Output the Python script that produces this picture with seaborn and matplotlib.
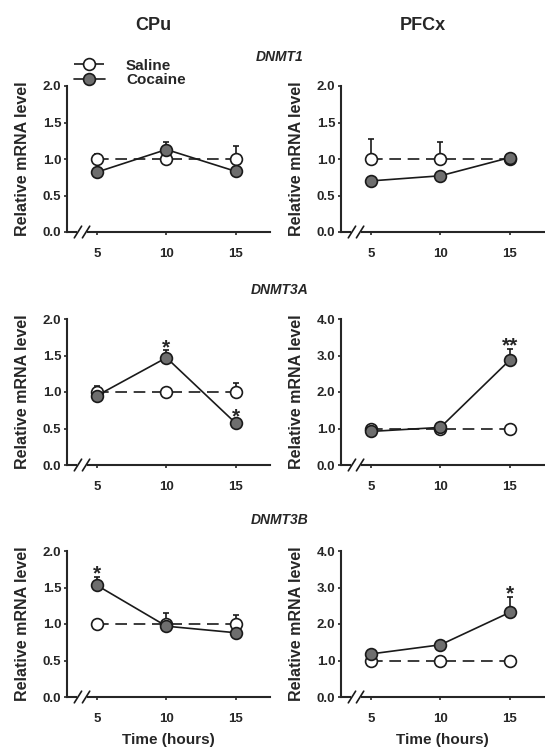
import matplotlib
matplotlib.use("Agg")
import matplotlib.pyplot as plt
import numpy as np
import pandas as pd
import seaborn as sns

# ---- data ----
TIME = [5, 10, 15]
REGIONS = ["CPu", "PFCx"]
GENES = ["DNMT1", "DNMT3A", "DNMT3B"]

SAL_CPU_DNMT1 = [1.00, 1.00, 1.00]
SAL_CPU_DNMT1_ERR = [0.07, 0.03, 0.18]
COC_CPU_DNMT1 = [0.82, 1.13, 0.83]
COC_CPU_DNMT1_ERR = [0.03, 0.10, 0.03]

SAL_PFC_DNMT1 = [1.00, 1.00, 1.00]
SAL_PFC_DNMT1_ERR = [0.28, 0.23, 0.03]
COC_PFC_DNMT1 = [0.70, 0.77, 1.02]
COC_PFC_DNMT1_ERR = [0.03, 0.03, 0.03]

SAL_CPU_DNMT3A = [1.00, 1.00, 1.00]
SAL_CPU_DNMT3A_ERR = [0.08, 0.02, 0.13]
COC_CPU_DNMT3A = [0.95, 1.47, 0.57]
COC_CPU_DNMT3A_ERR = [0.05, 0.10, 0.05]

SAL_PFC_DNMT3A = [1.00, 1.00, 1.00]
SAL_PFC_DNMT3A_ERR = [0.05, 0.03, 0.08]
COC_PFC_DNMT3A = [0.92, 1.03, 2.88]
COC_PFC_DNMT3A_ERR = [0.05, 0.05, 0.30]

SAL_CPU_DNMT3B = [1.00, 1.00, 1.00]
SAL_CPU_DNMT3B_ERR = [0.03, 0.15, 0.12]
COC_CPU_DNMT3B = [1.53, 0.97, 0.88]
COC_CPU_DNMT3B_ERR = [0.12, 0.05, 0.03]

SAL_PFC_DNMT3B = [1.00, 1.00, 1.00]
SAL_PFC_DNMT3B_ERR = [0.03, 0.03, 0.03]
COC_PFC_DNMT3B = [1.18, 1.43, 2.32]
COC_PFC_DNMT3B_ERR = [0.05, 0.05, 0.43]

# significance marks on cocaine points: "" = none
SIG_CPU_DNMT1 = ["", "", ""]
SIG_PFC_DNMT1 = ["", "", ""]
SIG_CPU_DNMT3A = ["", "*", "*"]
SIG_PFC_DNMT3A = ["", "", "**"]
SIG_CPU_DNMT3B = ["*", "", ""]
SIG_PFC_DNMT3B = ["", "", "*"]

YMAX_CPU = [2.0, 2.0, 2.0]
YMAX_PFC = [2.0, 4.0, 4.0]

PANELS = {
    ("DNMT1", "CPu"): (SAL_CPU_DNMT1, SAL_CPU_DNMT1_ERR, COC_CPU_DNMT1, COC_CPU_DNMT1_ERR, SIG_CPU_DNMT1),
    ("DNMT1", "PFCx"): (SAL_PFC_DNMT1, SAL_PFC_DNMT1_ERR, COC_PFC_DNMT1, COC_PFC_DNMT1_ERR, SIG_PFC_DNMT1),
    ("DNMT3A", "CPu"): (SAL_CPU_DNMT3A, SAL_CPU_DNMT3A_ERR, COC_CPU_DNMT3A, COC_CPU_DNMT3A_ERR, SIG_CPU_DNMT3A),
    ("DNMT3A", "PFCx"): (SAL_PFC_DNMT3A, SAL_PFC_DNMT3A_ERR, COC_PFC_DNMT3A, COC_PFC_DNMT3A_ERR, SIG_PFC_DNMT3A),
    ("DNMT3B", "CPu"): (SAL_CPU_DNMT3B, SAL_CPU_DNMT3B_ERR, COC_CPU_DNMT3B, COC_CPU_DNMT3B_ERR, SIG_CPU_DNMT3B),
    ("DNMT3B", "PFCx"): (SAL_PFC_DNMT3B, SAL_PFC_DNMT3B_ERR, COC_PFC_DNMT3B, COC_PFC_DNMT3B_ERR, SIG_PFC_DNMT3B),
}
YMAX = {"CPu": YMAX_CPU, "PFCx": YMAX_PFC}

COC_FILL = "#6e6e6e"
LINE = "#1a1a1a"

sns.set_theme(style="ticks")
plt.rcParams["font.family"] = ["Liberation Sans", "DejaVu Sans"]
plt.rcParams["font.weight"] = "bold"
plt.rcParams["axes.labelweight"] = "bold"

fig = plt.figure(figsize=(5.45, 7.51), dpi=100)

COL_LEFT = {"CPu": 67 / 545, "PFCx": 341 / 545}
COL_W = 203 / 545
ROW_BOTTOM = [1 - 232 / 751, 1 - 465 / 751, 1 - 697 / 751]
ROW_H = 146 / 751
GENE_Y = [1 - 57 / 751, 1 - 290 / 751, 1 - 520 / 751]
TITLE_X = {"CPu": 153 / 545, "PFCx": 423 / 545}

for region in REGIONS:
    fig.text(TITLE_X[region], 1 - 25 / 751, region, ha="center", va="center",
             fontsize=13, fontweight="bold")

for r, gene in enumerate(GENES):
    fig.text(280 / 545, GENE_Y[r], gene, ha="center", va="center",
             fontsize=10, fontweight="bold", style="italic")
    for region in REGIONS:
        sal, sal_err, coc, coc_err, sig = PANELS[(gene, region)]
        ax = fig.add_axes([COL_LEFT[region], ROW_BOTTOM[r], COL_W, ROW_H])
        df = pd.DataFrame({"time": TIME, "saline": sal, "cocaine": coc})

        ax.errorbar(TIME, sal, yerr=[np.zeros(3), sal_err], fmt="none",
                    ecolor=LINE, elinewidth=1.2, capsize=2.5, capthick=1.2, zorder=2)
        ax.errorbar(TIME, coc, yerr=[np.zeros(3), coc_err], fmt="none",
                    ecolor=LINE, elinewidth=1.2, capsize=2.5, capthick=1.2, zorder=2)
        sns.lineplot(data=df, x="time", y="saline", ax=ax, color=LINE,
                     linewidth=1.2, linestyle=(0, (7, 4)), marker="o", markersize=8.5,
                     markerfacecolor="white", markeredgecolor=LINE,
                     markeredgewidth=1.2, label="Saline", zorder=3, clip_on=False)
        sns.lineplot(data=df, x="time", y="cocaine", ax=ax, color=LINE,
                     linewidth=1.2, marker="o", markersize=8.5,
                     markerfacecolor=COC_FILL, markeredgecolor=LINE,
                     markeredgewidth=1.2, label="Cocaine", zorder=4, clip_on=False)

        for t, v, e, s in zip(TIME, coc, coc_err, sig):
            if s:
                ax.annotate(s, (t, v + e), xytext=(0, 2), textcoords="offset points",
                            ha="center", va="center", fontsize=15, fontweight="bold",
                            annotation_clip=False)

        ymax = YMAX[region][r]
        ax.set_ylim(0, ymax)
        step = 0.5 if ymax == 2.0 else 1.0
        ax.set_yticks(np.arange(0, ymax + 0.01, step))
        ax.yaxis.set_major_formatter(matplotlib.ticker.FormatStrFormatter("%.1f"))
        ax.set_xlim(2.85, 17.45)
        ax.set_xticks(TIME)
        ax.set_xticklabels([str(t) for t in TIME])
        ax.tick_params(axis="both", labelsize=9.5, width=1.2)
        ax.tick_params(axis="y", length=2.5, pad=1.5)
        ax.tick_params(axis="x", length=2.5, pad=9)
        for lbl in ax.get_xticklabels() + ax.get_yticklabels():
            lbl.set_fontweight("bold")
        sns.despine(ax=ax)
        for sp in ("left", "bottom"):
            ax.spines[sp].set_linewidth(1.5)
        ax.set_ylabel("Relative mRNA level", fontsize=11.5, labelpad=9)
        if r == 2:
            ax.set_xlabel("Time (hours)", fontsize=11, labelpad=6)
        else:
            ax.set_xlabel("")

        # axis break mark on the x axis
        ax.plot([0.058, 0.09], [0, 0], transform=ax.transAxes, color="white",
                linewidth=3, clip_on=False, zorder=5)
        for bx in (0.054, 0.094):
            ax.plot([bx - 0.018, bx + 0.018], [-0.04, 0.04], transform=ax.transAxes,
                    color=LINE, linewidth=1.2, clip_on=False, zorder=6)

        if r == 0 and region == "CPu":
            ax.legend(loc="lower left", bbox_to_anchor=(0.035, 0.99), frameon=False,
                      handlelength=2.0, handletextpad=1.4,
                      labelspacing=0.05, borderaxespad=0, borderpad=0,
                      prop={"weight": "bold", "size": 11})
        else:
            leg = ax.get_legend()
            if leg is not None:
                leg.remove()

fig.savefig("out.png", dpi=100)
